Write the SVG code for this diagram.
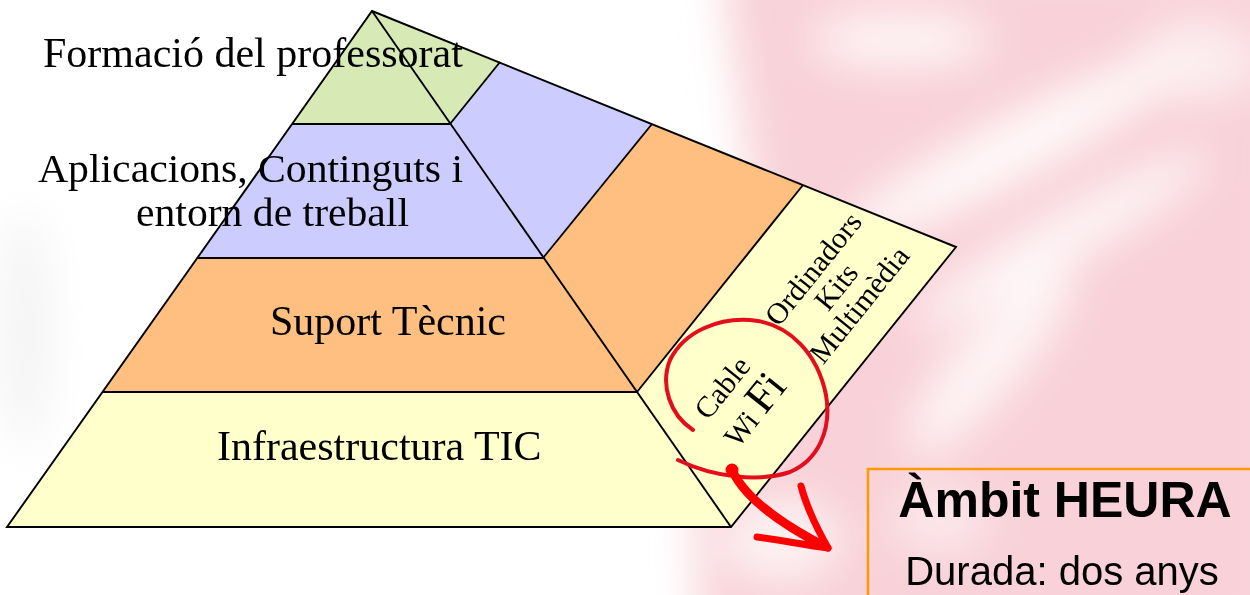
<svg xmlns="http://www.w3.org/2000/svg" width="1250" height="595" viewBox="0 0 1250 595">
<defs>
<filter id="blur" x="-50%" y="-50%" width="200%" height="200%"><feGaussianBlur stdDeviation="22"/></filter>
<filter id="soft" x="-10%" y="-10%" width="120%" height="120%"><feGaussianBlur stdDeviation="0.6"/></filter>
<style>
.edge{stroke:#000;stroke-width:1.9;stroke-linejoin:miter;}
.green{fill:#D7E9B5;}
.purple{fill:#CCCCFF;}
.orange{fill:#FFBF80;}
.yellow{fill:#FFFFCC;}
.lbl{font-family:"Liberation Serif","Times New Roman",serif;font-size:42px;fill:#000;}
.lbl2{font-family:"Liberation Serif","Times New Roman",serif;font-size:39px;fill:#000;}
.rot{font-family:"Liberation Serif","Times New Roman",serif;font-size:30px;fill:#000;text-anchor:middle;}
.red{fill:none;stroke:#E3101C;stroke-linecap:round;stroke-linejoin:round;}
.arrow{fill:none;stroke:#FF0000;stroke-linecap:round;stroke-linejoin:round;}
.box{fill:none;stroke:#FF9900;stroke-width:2.5;}
.sans{font-family:"Liberation Sans",Arial,sans-serif;fill:#000;text-anchor:middle;}
</style>
</defs>
<g id="background">
<rect x="0" y="0" width="1250" height="595" fill="#FFFFFF"/>
<g filter="url(#blur)">
<path d="M720,-40 L1290,-40 L1290,640 L700,640 L690,420 L760,260 L740,100 Z" fill="#F8D2D8"/>
<ellipse cx="1010" cy="150" rx="190" ry="28" transform="rotate(-28 1010 150)" fill="#FFFFFF" opacity="0.9"/>
<ellipse cx="1060" cy="240" rx="170" ry="22" transform="rotate(-30 1060 240)" fill="#FFFFFF" opacity="0.85"/>
<ellipse cx="990" cy="360" rx="120" ry="30" transform="rotate(-50 990 360)" fill="#FFFFFF" opacity="0.8"/>
<ellipse cx="900" cy="40" rx="90" ry="25" fill="#FFFFFF" opacity="0.8"/>
<ellipse cx="1200" cy="60" rx="60" ry="40" fill="#FFFFFF" opacity="0.6"/>
<ellipse cx="780" cy="540" rx="60" ry="40" fill="#FFFFFF" opacity="0.7"/>
<ellipse cx="940" cy="520" rx="50" ry="30" fill="#FFFFFF" opacity="0.5"/>
<ellipse cx="25" cy="330" rx="25" ry="120" fill="#EEEEEE" opacity="0.7"/>
</g>
</g>
<g id="infraestructura">
<polygon class="yellow" points="103,392 637,392 731,527 7,527"/>
<polygon class="yellow" points="637,392 803,185 956,247 731,527"/>
<text class="lbl" x="217" y="460">Infraestructura TIC</text>
</g>
<g id="suport">
<polygon class="orange" points="198,258 543,258 637,392 103,392"/>
<polygon class="orange" points="543,258 652,124 803,185 637,392"/>
<text class="lbl" x="270" y="335">Suport Tècnic</text>
</g>
<g id="aplicacions">
<polygon class="purple" points="292,124 450,124 543,258 198,258"/>
<polygon class="purple" points="450,124 500,62 652,124 543,258"/>
</g>
<g id="formacio">
<polygon class="green" points="372,11 450,124 292,124"/>
<polygon class="green" points="372,11 500,62 450,124"/>
</g>
<g id="edges" fill="none">
<polygon class="edge" points="372,11 956,247 731,527 7,527"/>
<line class="edge" x1="372" y1="11" x2="731" y2="527"/>
<line class="edge" x1="292" y1="124" x2="450" y2="124"/>
<line class="edge" x1="198" y1="258" x2="543" y2="258"/>
<line class="edge" x1="103" y1="392" x2="637" y2="392"/>
<line class="edge" x1="450" y1="124" x2="500" y2="62"/>
<line class="edge" x1="543" y1="258" x2="652" y2="124"/>
<line class="edge" x1="637" y1="392" x2="803" y2="185"/>
</g>
<g id="labels-front">
<text class="lbl" x="43" y="67">Formació del professorat</text>
<text class="lbl2" x="38" y="182" textLength="425" lengthAdjust="spacingAndGlyphs">Aplicacions, Continguts i</text>
<text class="lbl2" x="136" y="226" textLength="273" lengthAdjust="spacingAndGlyphs">entorn de treball</text>
</g>
<g id="equipament">
<text class="rot" transform="translate(821,275) rotate(-51.3)">Ordinadors</text>
<text class="rot" transform="translate(844,293) rotate(-51.3)">Kits</text>
<text class="rot" transform="translate(867,311) rotate(-51.3)">Multimèdia</text>
</g>
<g id="xarxa">
<text class="rot" transform="translate(730,394) rotate(-51.3)">Cable</text>
<text class="rot" transform="translate(763,418) rotate(-51.3)"><tspan>Wi </tspan><tspan font-size="44">Fi</tspan></text>
</g>
<g id="connectors" filter="url(#soft)">
<path class="red" stroke-width="4" d="M693,430 C670,415 660,385 670,360 C685,330 720,318 750,320 C790,323 818,355 826,395 C832,430 818,460 790,472 C760,482 715,478 678,460"/>
<circle cx="732" cy="470" r="6.5" fill="#FF0000"/>
<path class="arrow" stroke-width="9" d="M732,470 C742,492 770,518 824,546"/>
<path class="arrow" stroke-width="7" d="M801,486 C806,505 815,525 828,548"/>
<path class="arrow" stroke-width="7" d="M757,537 C780,540 805,545 828,548"/>
</g>
<g id="ambit">
<rect class="box" x="868" y="469" width="400" height="140"/>
<text class="sans" x="1065" y="517" font-size="50" font-weight="bold">Àmbit HEURA</text>
<text class="sans" x="1062" y="585" font-size="40">Durada: dos anys</text>
</g>
</svg>
